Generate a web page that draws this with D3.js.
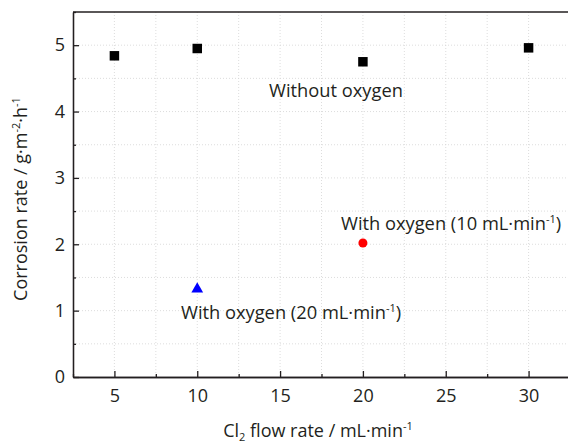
<!DOCTYPE html>
<html>
<head>
<meta charset="utf-8">
<script src="https://cdn.jsdelivr.net/npm/d3@7"></script>
<style>
  body { margin: 0; background: #fff; }
  text { font-family: "Open Sans", "Noto Sans", sans-serif; fill: #231f20; }
</style>
</head>
<body>
<div id="canvas"></div>
<script>
"use strict"

/* Data */
let flowNoOxygen = [5, 10, 20, 30];
let rateNoOxygen = [4.84, 4.95, 4.75, 4.96];
let flowOxygen10 = [20];
let rateOxygen10 = [2.02];
let flowOxygen20 = [10];
let rateOxygen20 = [1.34];
let xTicks = [5, 10, 15, 20, 25, 30];
let yTicks = [0, 1, 2, 3, 4, 5];

/* Drawing configuration */
let svgWidth = 568;
let svgHeight = 444;
let plotLeft = 73, plotTop = 12, plotRight = 570, plotBottom = 377;

let svg = d3.select("#canvas")
    .append("svg")
    .attr("width", svgWidth)
    .attr("height", svgHeight);

let xScale = d3.scaleLinear().domain([2.5, 32.5]).range([plotLeft, plotRight]);
let yScale = d3.scaleLinear().domain([0, 5.5]).range([plotBottom, plotTop]);

let xMinor = d3.range(2.5, 32.6, 2.5);
let yMinor = d3.range(0, 5.51, 0.5);

/* dotted grid at major and minor positions */
let grid = svg.append("g")
    .attr("stroke", "#d4d4d4")
    .attr("stroke-width", 0.8)
    .attr("stroke-dasharray", "1,2");

grid.selectAll("line.gx")
    .data(xMinor.filter(v => v > 2.5))
    .join("line")
    .attr("x1", d => xScale(d)).attr("x2", d => xScale(d))
    .attr("y1", plotTop).attr("y2", plotBottom);

grid.selectAll("line.gy")
    .data(yMinor.filter(v => v > 0 && v < 5.5))
    .join("line")
    .attr("y1", d => yScale(d)).attr("y2", d => yScale(d))
    .attr("x1", plotLeft).attr("x2", plotRight);

/* axes with inward ticks */
let xAxis = d3.axisBottom(xScale).tickValues(xTicks).tickSize(-6).tickPadding(12).tickSizeOuter(0);
let xAxisMinor = d3.axisBottom(xScale).tickValues(xMinor.filter(v => v % 5 !== 0)).tickSize(-3).tickFormat("").tickSizeOuter(0);
let yAxis = d3.axisLeft(yScale).tickValues(yTicks).tickFormat(d3.format("d")).tickSize(-6).tickPadding(8).tickSizeOuter(0);
let yAxisMinor = d3.axisLeft(yScale).tickValues(yMinor.filter(v => v % 1 !== 0)).tickSize(-3).tickFormat("").tickSizeOuter(0);

function styleAxis(g) {
    g.select(".domain").attr("stroke", "#231f20").attr("stroke-width", 1.3);
    g.selectAll(".tick line").attr("stroke", "#231f20").attr("stroke-width", 1.3);
    g.selectAll(".tick text")
        .attr("font-size", 18)
        .attr("font-family", "'Open Sans', 'Noto Sans', sans-serif")
        .attr("fill", "#231f20");
}

svg.append("g").attr("transform", "translate(0," + plotBottom + ")").call(xAxisMinor).call(styleAxis);
svg.append("g").attr("transform", "translate(0," + plotBottom + ")").call(xAxis).call(styleAxis);
svg.append("g").attr("transform", "translate(" + plotLeft + ",0)").call(yAxisMinor).call(styleAxis);
svg.append("g").attr("transform", "translate(" + plotLeft + ",0)").call(yAxis).call(styleAxis);

/* top border */
svg.append("line")
    .attr("x1", plotLeft).attr("x2", plotRight)
    .attr("y1", plotTop).attr("y2", plotTop)
    .attr("stroke", "#231f20").attr("stroke-width", 1.3);

/* markers */
svg.selectAll("path.sq")
    .data(flowNoOxygen)
    .join("path")
    .attr("d", d3.symbol(d3.symbolSquare, 90))
    .attr("transform", (d, i) => "translate(" + xScale(d) + "," + yScale(rateNoOxygen[i]) + ")")
    .attr("fill", "#000");

svg.selectAll("circle.o10")
    .data(flowOxygen10)
    .join("circle")
    .attr("cx", d => xScale(d))
    .attr("cy", (d, i) => yScale(rateOxygen10[i]))
    .attr("r", 4.5)
    .attr("fill", "#ff0000");

svg.selectAll("path.o20")
    .data(flowOxygen20)
    .join("path")
    .attr("d", d3.symbol(d3.symbolTriangle, 60))
    .attr("transform", (d, i) => "translate(" + xScale(d) + "," + (yScale(rateOxygen20[i]) + 1) + ")")
    .attr("fill", "#0000ff");

/* annotations */
svg.append("text")
    .attr("x", 336).attr("y", 97)
    .attr("text-anchor", "middle")
    .attr("font-size", 18.3)
    .text("Without oxygen");

let t10 = svg.append("text")
    .attr("x", 341).attr("y", 230)
    .attr("font-size", 18.3);
t10.append("tspan").text("With oxygen (10 mL·min");
t10.append("tspan").attr("font-size", 11).attr("dy", -7).text("-1");
t10.append("tspan").attr("dy", 7).text(")");

let t20 = svg.append("text")
    .attr("x", 181).attr("y", 319)
    .attr("font-size", 18.3);
t20.append("tspan").text("With oxygen (20 mL·min");
t20.append("tspan").attr("font-size", 11).attr("dy", -7).text("-1");
t20.append("tspan").attr("dy", 7).text(")");

/* axis titles */
let xt = svg.append("text")
    .attr("x", 318).attr("y", 437)
    .attr("text-anchor", "middle")
    .attr("font-size", 18);
xt.append("tspan").text("Cl");
xt.append("tspan").attr("font-size", 11).attr("dy", 4).text("2");
xt.append("tspan").attr("dy", -4).text(" flow rate / mL·min");
xt.append("tspan").attr("font-size", 11).attr("dy", -7).text("-1");

let yt = svg.append("text")
    .attr("transform", "translate(27,199) rotate(-90)")
    .attr("text-anchor", "middle")
    .attr("font-size", 18);
yt.append("tspan").text("Corrosion rate / g·m");
yt.append("tspan").attr("font-size", 11).attr("dy", -7).text("-2");
yt.append("tspan").attr("dy", 7).text("·h");
yt.append("tspan").attr("font-size", 11).attr("dy", -7).text("-1");
</script>
</body>
</html>
